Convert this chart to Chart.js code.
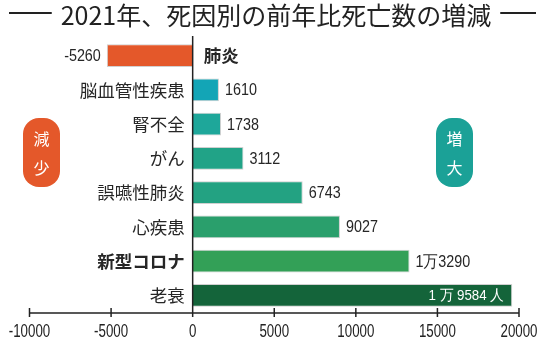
<!DOCTYPE html>
<html lang="ja">
<head>
<meta charset="utf-8">
<script src="https://cdn.jsdelivr.net/npm/chart.js@4/dist/chart.umd.min.js"></script>
<style>
  html, body { margin: 0; padding: 0; background: #fff; }
  canvas { display: block; }
</style>
</head>
<body>
<canvas id="deathChart" width="546" height="346"></canvas>
<script>
// ---- データ ----
const titleText = '2021年、死因別の前年比死亡数の増減';
const categories = ['肺炎', '脳血管性疾患', '腎不全', 'がん', '誤嚥性肺炎', '心疾患', '新型コロナ', '老衰'];
const changes = [-5260, 1610, 1738, 3112, 6743, 9027, 13290, 19584];
const barColors = ['#e4582a', '#13a5b6', '#1ea79a', '#21a387', '#23a282', '#2a9f6c', '#33a057', '#14643a'];
const boldCategories = ['肺炎', '新型コロナ'];
const xTicks = [-10000, -5000, 0, 5000, 10000, 15000, 20000];

const INK = '#222';
const NUM_FONT = '"Liberation Sans", Arial, sans-serif';
const JP_FONT = '"Noto Sans CJK JP", "Noto Sans", sans-serif';

// 1万以上は「1万3290」のように書く
function formatValue(v, inside){
  if (Math.abs(v) < 10000) return String(v);
  const man = Math.floor(v / 10000);
  const rest = v % 10000;
  return inside ? man + ' 万 ' + rest + ' 人' : man + '万' + rest;
}

// 横に詰めた文字
function narrowText(ctx, text, x, y, sx, align){
  ctx.save();
  ctx.translate(x, y);
  ctx.scale(sx, 1);
  ctx.textAlign = align;
  ctx.fillText(text, 0, 0);
  ctx.restore();
}

function badge(ctx, x, y, w, h, color, chars){
  ctx.save();
  ctx.fillStyle = color;
  ctx.beginPath();
  ctx.roundRect(x, y, w, h, 16);
  ctx.fill();
  ctx.fillStyle = '#fff';
  ctx.font = '16px ' + JP_FONT;
  ctx.textAlign = 'center';
  ctx.textBaseline = 'middle';
  ctx.fillText(chars[0], x + w / 2, y + 21);
  ctx.fillText(chars[1], x + w / 2, y + 50);
  ctx.restore();
}

const decorPlugin = {
  id: 'decor',
  afterDatasetsDraw(chart){
    const ctx = chart.ctx;
    const x = chart.scales.x;
    const area = chart.chartArea;
    const zero = x.getPixelForValue(0);
    const axisY = area.bottom + 0.5;

    // タイトル
    ctx.save();
    ctx.fillStyle = INK;
    ctx.font = '25px ' + JP_FONT;
    ctx.textAlign = 'center';
    ctx.textBaseline = 'middle';
    ctx.fillText(titleText, 276, 15);
    const tw = ctx.measureText(titleText).width;
    ctx.strokeStyle = INK;
    ctx.lineWidth = 2;
    ctx.beginPath();
    ctx.moveTo(9, 13); ctx.lineTo(276 - tw / 2 - 9, 13);
    ctx.moveTo(276 + tw / 2 + 9, 13); ctx.lineTo(536, 13);
    ctx.stroke();
    ctx.restore();

    // 0の縦線と横軸
    ctx.save();
    ctx.strokeStyle = INK;
    ctx.lineWidth = 1.5;
    ctx.beginPath();
    ctx.moveTo(zero, 36); ctx.lineTo(zero, axisY);
    ctx.moveTo(x.getPixelForValue(xTicks[0]), axisY);
    ctx.lineTo(x.getPixelForValue(xTicks[xTicks.length - 1]), axisY);
    xTicks.forEach(t => {
      const px = x.getPixelForValue(t);
      ctx.moveTo(px, axisY - 5); ctx.lineTo(px, axisY + 4);
    });
    ctx.stroke();
    ctx.fillStyle = INK;
    ctx.font = '18.5px ' + NUM_FONT;
    ctx.textBaseline = 'middle';
    xTicks.forEach(t => narrowText(ctx, String(t), x.getPixelForValue(t), axisY + 19, 0.72, 'center'));
    ctx.restore();

    // 項目名と数値
    const meta = chart.getDatasetMeta(0);
    ctx.save();
    ctx.textBaseline = 'middle';
    meta.data.forEach((bar, i) => {
      const v = changes[i];
      const name = categories[i];
      ctx.fillStyle = '#262626';
      ctx.font = (boldCategories.includes(name) ? 'bold ' : '') + '17.5px ' + JP_FONT;
      if (v >= 0) {
        ctx.textAlign = 'right';
        ctx.fillText(name, zero - 8, bar.y);
      } else {
        ctx.textAlign = 'left';
        ctx.fillText(name, zero + 11, bar.y);
      }

      ctx.font = '16.5px ' + NUM_FONT;
      if (v < 0) {
        narrowText(ctx, formatValue(v), bar.x - 6, bar.y + 1, 0.87, 'right');
      } else if (bar.x > area.right - 40) {
        ctx.fillStyle = '#fff';
        ctx.font = '14.5px ' + NUM_FONT;
        narrowText(ctx, formatValue(v, true), bar.x - 8, bar.y + 1, 0.92, 'right');
      } else {
        narrowText(ctx, formatValue(v), bar.x + 6, bar.y + 1, 0.87, 'left');
      }
    });
    ctx.restore();

    badge(ctx, 23, 118, 37, 69, '#e4582a', ['減', '少']);
    badge(ctx, 436, 118, 37, 69, '#1ba197', ['増', '大']);
  }
};

new Chart(document.getElementById('deathChart'), {
  type: 'bar',
  data: {
    labels: categories,
    datasets: [{
      data: changes,
      backgroundColor: barColors,
      borderColor: 'rgba(120,120,120,0.35)',
      borderWidth: 1,
      borderSkipped: 'start',
      barPercentage: 0.67,
      categoryPercentage: 1
    }]
  },
  options: {
    indexAxis: 'y',
    responsive: false,
    animation: false,
    layout: { padding: { left: 29.5, right: 27, top: 38.5, bottom: 33.5 } },
    plugins: { legend: { display: false }, tooltip: { enabled: false } },
    scales: {
      x: { display: false, min: -10000, max: 20000 },
      y: { display: false }
    }
  },
  plugins: [decorPlugin]
});
</script>
</body>
</html>
